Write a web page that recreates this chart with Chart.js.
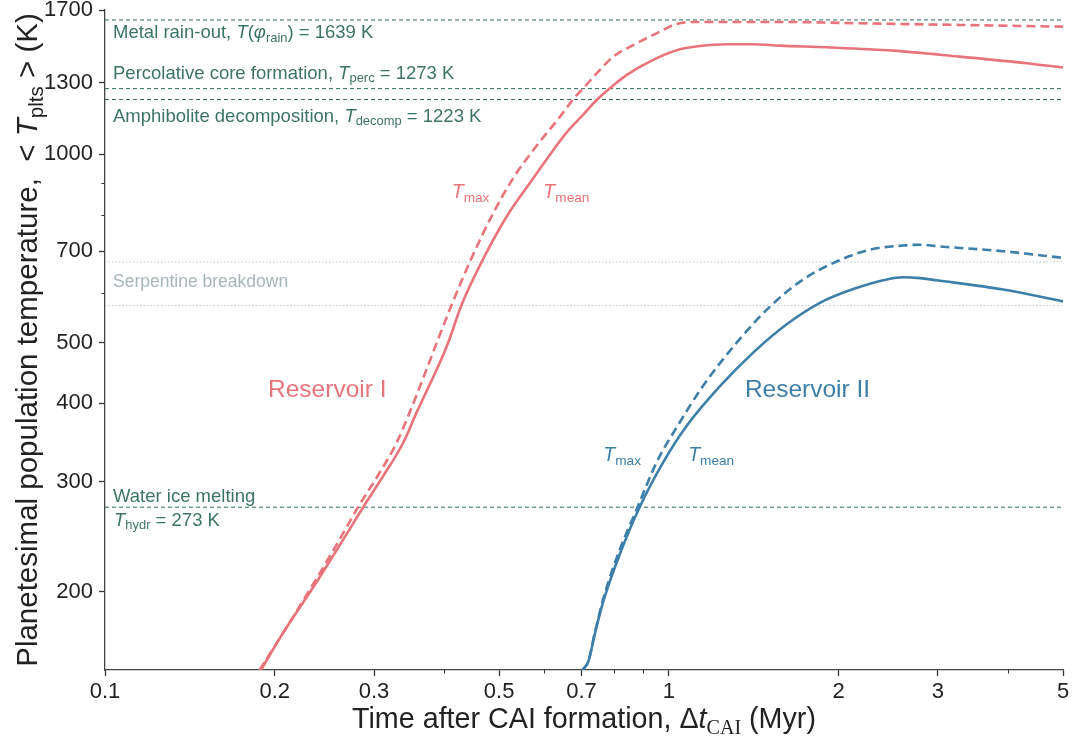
<!DOCTYPE html>
<html>
<head>
<meta charset="utf-8">
<script src="https://cdn.jsdelivr.net/npm/chart.js@4.4.1/dist/chart.umd.min.js"></script>
<style>
  html, body { margin: 0; padding: 0; background: #fff; }
</style>
</head>
<body>
<canvas id="graficoTemp" width="1076" height="739"></canvas>
<script>
// Reservoir I (Myr after CAI, K)
const resITimeMean = [0.189, 0.207, 0.237, 0.265, 0.287, 0.312, 0.338, 0.357, 0.367, 0.404, 0.429, 0.466, 0.516, 0.567, 0.624, 0.654, 0.696, 0.750, 0.786, 0.842, 0.938, 1.046, 1.135, 1.266, 1.411, 1.574, 1.905, 2.50, 3.28, 4.31, 5.0];
const resITempMean = [150, 172, 207, 243, 273, 307, 346, 387, 408, 494, 575, 674, 796, 900, 1016, 1075, 1143, 1229, 1275, 1339, 1415, 1471, 1489, 1499, 1499, 1491, 1482, 1464, 1432, 1398, 1376];
const resITimeMax = [0.188, 0.207, 0.235, 0.261, 0.281, 0.305, 0.329, 0.347, 0.412, 0.444, 0.488, 0.530, 0.579, 0.641, 0.677, 0.705, 0.745, 0.797, 0.877, 0.964, 1.032, 1.135, 1.574, 2.18, 3.28, 5.0];
const resITempMax = [150, 172, 207, 243, 273, 307, 346, 387, 575, 674, 805, 917, 1024, 1148, 1225, 1275, 1347, 1432, 1504, 1570, 1615, 1627, 1627, 1619, 1609, 1599];

// Reservoir II
const resIITimeMean = [0.703, 0.720, 0.740, 0.765, 0.819, 0.889, 0.977, 1.075, 1.232, 1.411, 1.618, 1.853, 2.123, 2.434, 2.604, 2.788, 2.985, 3.917, 5.0];
const resIITempMean = [150, 155, 172, 193, 230, 274, 322, 368, 426, 482, 535, 579, 609, 631, 636, 634, 629, 608, 582];
const resIITimeMax = [0.703, 0.720, 0.739, 0.765, 0.819, 0.877, 0.951, 1.032, 1.151, 1.319, 1.511, 1.731, 1.984, 2.273, 2.604, 2.788, 2.985, 3.917, 5.0];
const resIITempMax = [150, 155, 172, 195, 234, 271, 322, 366, 427, 500, 571, 631, 674, 704, 715, 717, 713, 700, 683];

// limiares (K)
const tempRain = 1639;
const tempPerc = 1273;
const tempDecomp = 1223;
const tempHydr = 273;
const serpentineBounds = [673, 573];

// eixos
const xTicks = [0.1, 0.2, 0.3, 0.5, 0.7, 1, 2, 3, 5];
const xMinorTicks = [0.4, 0.6, 0.8, 0.9, 4];
const yTicks = [200, 300, 400, 500, 700, 1000, 1300, 1700];
const yMinorTicks = [600, 800, 900];
const xRange = [0.1, 5];
const yRange = [150, 1700];

const corRes1 = "#e8737a";
const corRes2 = "#3c7fa8";
const corLimiar = "#2e6a5d";
const corLimiarTexto = "#3b7466";
const corSerp = "#b9c6ca";
const corSerpTexto = "#a7b5b9";
const SANS = '"Liberation Sans", Arial, sans-serif';
const SERIF = '"Liberation Serif", "Times New Roman", serif';

function pares(xs, ys) {
  return xs.map((x, i) => ({ x: x, y: ys[i] }));
}

function curva(xs, ys, cor, tracejado) {
  return {
    data: pares(xs, ys),
    borderColor: cor,
    borderWidth: 2.6,
    borderDash: tracejado ? [9, 5] : [],
    pointRadius: 0,
    showLine: true,
    cubicInterpolationMode: "monotone",
    order: 1,
  };
}

function linhaH(valor, cor, dash) {
  return {
    data: [{ x: xRange[0], y: valor }, { x: xRange[1], y: valor }],
    borderColor: cor,
    borderWidth: 1,
    borderDash: dash,
    pointRadius: 0,
    showLine: true,
    order: 5,
  };
}

// texto com itálico / subscrito, estilo mathtext
function textoRico(ctx, partes, x, y, size, cor, align) {
  const pecas = partes.map(([txt, st]) => {
    const sub = st.includes("s");
    const fs = sub ? size * 0.7 : size;
    const fam = st.includes("r") ? SERIF : SANS;
    const font = (st.includes("i") ? "italic " : "") + fs + "px " + fam;
    ctx.font = font;
    return { txt, font, w: ctx.measureText(txt).width, dy: sub ? size * 0.2 : 0 };
  });
  const total = pecas.reduce((s, p) => s + p.w, 0);
  let cx = align === "center" ? x - total / 2 : x;
  ctx.fillStyle = cor;
  ctx.textAlign = "left";
  ctx.textBaseline = "alphabetic";
  pecas.forEach((p) => {
    ctx.font = p.font;
    ctx.fillText(p.txt, cx, y + p.dy);
    cx += p.w;
  });
}

const anotacoes = {
  id: "anotacoes",
  afterDraw(chart) {
    const { ctx, chartArea } = chart;
    const sx = chart.scales.x;
    const sy = chart.scales.y;
    ctx.save();

    // ticks menores
    ctx.strokeStyle = "#333";
    ctx.lineWidth = 1;
    ctx.beginPath();
    xMinorTicks.forEach((v) => {
      const px = Math.round(sx.getPixelForValue(v)) + 0.5;
      ctx.moveTo(px, chartArea.bottom);
      ctx.lineTo(px, chartArea.bottom + 3.5);
    });
    yMinorTicks.forEach((v) => {
      const py = Math.round(sy.getPixelForValue(v)) + 0.5;
      ctx.moveTo(chartArea.left, py);
      ctx.lineTo(chartArea.left - 3.5, py);
    });
    ctx.stroke();

    const xl = chartArea.left + 8;
    const f = 18.5;
    textoRico(ctx, [["Metal rain-out, ", "n"], ["T", "i"], ["(", "n"], ["φ", "i"], ["rain", "s"], [")", "n"], [" = 1639 K", "n"]],
      xl, sy.getPixelForValue(tempRain) + 18.5, f, corLimiarTexto);
    textoRico(ctx, [["Percolative core formation, ", "n"], ["T", "i"], ["perc", "s"], [" = 1273 K", "n"]],
      xl, sy.getPixelForValue(tempPerc) - 10, f, corLimiarTexto);
    textoRico(ctx, [["Amphibolite decomposition, ", "n"], ["T", "i"], ["decomp", "s"], [" = 1223 K", "n"]],
      xl, sy.getPixelForValue(tempDecomp) + 22, f, corLimiarTexto);
    textoRico(ctx, [["Serpentine breakdown", "n"]],
      xl, sy.getPixelForValue(serpentineBounds[0]) + 25.5, f - 1, corSerpTexto);
    textoRico(ctx, [["Water ice melting", "n"]],
      xl, sy.getPixelForValue(tempHydr) - 5, f, corLimiarTexto);
    textoRico(ctx, [["T", "i"], ["hydr", "s"], [" = 273 K", "n"]],
      xl + 1, sy.getPixelForValue(tempHydr) + 18.5, f, corLimiarTexto);

    // rótulos das curvas
    const yRes = sy.getPixelForValue(409);
    textoRico(ctx, [["Reservoir I", "n"]], sx.getPixelForValue(0.1946), yRes, 24.5, corRes1);
    textoRico(ctx, [["Reservoir II", "n"]], sx.getPixelForValue(1.364), yRes, 24.5, corRes2);
    const yT1 = sy.getPixelForValue(851);
    textoRico(ctx, [["T", "i"], ["max", "s"]], sx.getPixelForValue(0.412), yT1, 19.5, corRes1);
    textoRico(ctx, [["T", "i"], ["mean", "s"]], sx.getPixelForValue(0.599), yT1, 19.5, corRes1);
    const yT2 = sy.getPixelForValue(323);
    textoRico(ctx, [["T", "i"], ["max", "s"]], sx.getPixelForValue(0.765), yT2, 19.5, corRes2);
    textoRico(ctx, [["T", "i"], ["mean", "s"]], sx.getPixelForValue(1.082), yT2, 19.5, corRes2);

    // títulos dos eixos
    const cxTitle = (chartArea.left + chartArea.right) / 2;
    textoRico(ctx, [["Time after CAI formation, Δ", "n"], ["t", "i"], ["CAI", "sr"], [" (Myr)", "n"]],
      cxTitle, 728, 28.7, "#222", "center");
    ctx.save();
    ctx.translate(37, (chartArea.top + chartArea.bottom) / 2);
    ctx.rotate(-Math.PI / 2);
    textoRico(ctx, [["Planetesimal population temperature,  < ", "n"], ["T", "i"], ["plts", "s"], [" > (K)", "n"]],
      0, 0, 29.5, "#222", "center");
    ctx.restore();

    ctx.restore();
  },
};

new Chart(document.getElementById("graficoTemp"), {
  type: "scatter",
  data: {
    datasets: [
      curva(resITimeMean, resITempMean, corRes1, false),
      curva(resITimeMax, resITempMax, corRes1, true),
      curva(resIITimeMean, resIITempMean, corRes2, false),
      curva(resIITimeMax, resIITempMax, corRes2, true),
      linhaH(tempRain, corLimiar, [4, 3]),
      linhaH(tempPerc, corLimiar, [4, 3]),
      linhaH(tempDecomp, corLimiar, [4, 3]),
      linhaH(tempHydr, corLimiar, [4, 3]),
      linhaH(serpentineBounds[0], corSerp, [1.5, 2]),
      linhaH(serpentineBounds[1], corSerp, [1.5, 2]),
    ],
  },
  options: {
    responsive: false,
    animation: false,
    devicePixelRatio: 1,
    layout: { padding: { top: 10, right: 13, left: 0, bottom: 0 } },
    plugins: { legend: { display: false }, tooltip: { enabled: false } },
    scales: {
      x: {
        type: "logarithmic",
        min: xRange[0],
        max: xRange[1],
        afterBuildTicks: (scale) => { scale.ticks = xTicks.map((v) => ({ value: v })); },
        afterFit: (scale) => {
          scale.height = 69;
          scale.paddingLeft = 0;
          scale.paddingRight = 0;
        },
        ticks: {
          autoSkip: false,
          maxRotation: 0,
          padding: 3,
          color: "#222",
          font: { family: SANS, size: 22 },
          callback: (v) => String(v),
        },
        grid: { drawOnChartArea: false, drawTicks: true, tickLength: 6, tickWidth: 1.3, tickColor: "#333" },
        border: { display: true, color: "#444", width: 1.3 },
      },
      y: {
        type: "logarithmic",
        min: yRange[0],
        max: yRange[1],
        afterBuildTicks: (scale) => { scale.ticks = yTicks.map((v) => ({ value: v })); },
        afterFit: (scale) => {
          scale.width = 105;
          scale.paddingTop = 0;
          scale.paddingBottom = 0;
        },
        ticks: {
          autoSkip: false,
          padding: 6,
          color: "#222",
          font: { family: SANS, size: 22 },
          callback: (v) => String(v),
        },
        grid: { drawOnChartArea: false, drawTicks: true, tickLength: 6, tickWidth: 1.3, tickColor: "#333" },
        border: { display: true, color: "#444", width: 1.3 },
      },
    },
  },
  plugins: [anotacoes],
});
</script>
</body>
</html>
